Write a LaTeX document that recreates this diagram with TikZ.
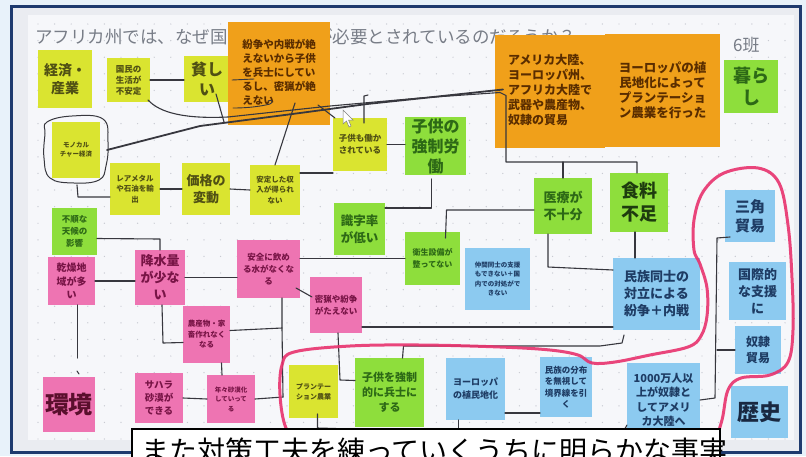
\documentclass[tikz,border=0pt]{standalone}
\usepackage{fontspec}
\setmainfont{Noto Sans CJK JP}
\usetikzlibrary{calc}
\definecolor{bgblue}{RGB}{232,242,250}
\definecolor{navy}{RGB}{30,58,110}
\definecolor{rim}{RGB}{234,236,241}
\definecolor{board}{RGB}{246,247,250}
\definecolor{dotc}{RGB}{200,202,210}
\definecolor{cyel}{RGB}{218,228,48}
\definecolor{cgrn}{RGB}{142,222,60}
\definecolor{cora}{RGB}{240,160,26}
\definecolor{cpnk}{RGB}{238,116,178}
\definecolor{cblu}{RGB}{140,202,240}
\definecolor{tyel}{RGB}{80,80,20}
\definecolor{tgrn}{RGB}{45,105,22}
\definecolor{tora}{RGB}{90,45,0}
\definecolor{tpnk}{RGB}{120,20,70}
\definecolor{tblu}{RGB}{30,60,100}
\definecolor{lineC}{RGB}{55,55,62}
\definecolor{pinkline}{RGB}{232,50,110}
\definecolor{titlec}{RGB}{120,125,135}
\newcommand\fz[2]{\fontsize{#1}{#2}\selectfont\bfseries}
\tikzset{
  note/.style={anchor=north west, inner sep=0pt, outer sep=0pt, align=center},
  yel/.style={note, fill=cyel, text=tyel},
  grn/.style={note, fill=cgrn, text=tgrn},
  ora/.style={note, fill=cora, text=tora},
  pnk/.style={note, fill=cpnk, text=tpnk},
  blu/.style={note, fill=cblu, text=tblu},
  cn/.style={draw=lineC, line width=1.1pt, line cap=round, line join=round},
  pk/.style={draw=pinkline, line width=3pt, line cap=round, line join=round, opacity=0.9}
}
\begin{document}
\begin{tikzpicture}[x=1pt,y=-1pt]
\clip (0,0) rectangle (806,456);
\fill[bgblue] (0,0) rectangle (806,456);
\fill[rim] (11,6) rectangle (800,452);
\fill[board] (28,15) rectangle (794,440);
\foreach \i in {0,...,45} \foreach \j in {0,...,25} \fill[dotc] (38+\i*16.6, 24+\j*16.6) circle (0.7);
\draw[navy, line width=3pt] (11,6) rectangle (800,452);

% title
\node[anchor=west, inner sep=0, text=titlec, font=\fontsize{17.5}{20}\selectfont] (title) at (35,37) {アフリカ州では、なぜ国際的な支援が必要とされているのだろうか？};
\node[anchor=west, inner sep=0, text=titlec, font=\fontsize{17}{20}\selectfont] (han) at (733,45) {6班};

% notes
\node[yel, minimum width=54, minimum height=58, font={\fz{14}{18}}] (keizai) at (38,50) {経済・\\産業};
\node[yel, minimum width=43, minimum height=44, font={\fz{8.5}{11}}] (kokumin) at (107,58) {国民の\\生活が\\不安定};
\node[yel, minimum width=46, minimum height=46, font={\fz{16}{20}}] (mazu) at (184,56) {貧し\\い};
\node[ora, minimum width=102, minimum height=103, font={\fz{10.5}{14}}] (orangeA) at (228,22) {\begin{tabular}{@{}l@{}}紛争や内戦が絶\\えないから子供\\を兵士にしてい\\るし、密猟が絶\\えない\end{tabular}};
\node[ora, minimum width=110, minimum height=113, font={\fz{12}{15}}] (orangeB) at (495,35) {\begin{tabular}{@{}l@{}}アメリカ大陸、\\ヨーロッパ州、\\アフリカ大陸で\\武器や農産物、\\奴隷の貿易\end{tabular}};
\node[ora, minimum width=115, minimum height=113, font={\fz{12.5}{15}}] (orangeC) at (605,34) {ヨーロッパの植\\民地化によって\\プランテーショ\\ン農業を行った};
\node[grn, minimum width=54, minimum height=53, font={\fz{18}{22}}] (kurashi) at (724,60) {暮ら\\し};
\node[yel, minimum width=48, minimum height=56, font={\fz{6.5}{9}}] (mono) at (52,122) {モノカル\\チャー経済};
\node[yel, minimum width=54, minimum height=53, font={\fz{8.5}{12}}] (kodomoH) at (333,118) {子供も働か\\されている};
\node[grn, minimum width=61, minimum height=58, font={\fz{16}{20}}] (kyosei) at (405,117) {子供の\\強制労\\働};
\node[yel, minimum width=50, minimum height=52, font={\fz{7.5}{10.5}}] (rare) at (110,163) {レアメタル\\や石油を輸\\出};
\node[yel, minimum width=48, minimum height=52, font={\fz{13}{17}}] (kakaku) at (182,163) {価格の\\変動};
\node[yel, minimum width=50, minimum height=50, font={\fz{7.5}{10.5}}] (antei) at (250,165) {安定した収\\入が得られ\\ない};
\node[grn, minimum width=51, minimum height=52, font={\fz{12.5}{17}}] (shikiji) at (334,203) {識字率\\が低い};
\node[grn, minimum width=58, minimum height=56, font={\fz{13}{17}}] (iryo) at (534,178) {医療が\\不十分};
\node[grn, minimum width=58, minimum height=59, font={\fz{18}{23}}, text={rgb,255:red,30;green,60;blue,15}] (shokuryo) at (610,173) {食料\\不足};
\node[grn, minimum width=55, minimum height=53, font={\fz{8}{12}}] (eisei) at (405,232) {衛生設備が\\整ってない};
\node[blu, minimum width=65, minimum height=62, font={\fz{6.5}{9.5}}] (nakama) at (465,248) {仲間同士の支援\\もできない＋国\\内での対処がで\\きない};
\node[blu, minimum width=87, minimum height=72, font={\fz{13}{17}}] (minzokuD) at (613,258) {民族同士の\\対立による\\紛争＋内戦};
\node[blu, minimum width=50, minimum height=52, font={\fz{15}{19}}] (sankaku) at (725,190) {三角\\貿易};
\node[blu, minimum width=57, minimum height=58, font={\fz{13}{17}}] (kokusai) at (729,262) {国際的\\な支援\\に};
\node[blu, minimum width=46, minimum height=48, font={\fz{12}{16}}] (dorei) at (735,326) {奴隷\\貿易};
\node[blu, minimum width=57, minimum height=52, font={\fz{22}{26}}, text={rgb,255:red,25;green,40;blue,65}] (rekishi) at (731,386) {歴史};
\node[blu, minimum width=73, minimum height=74, font={\fz{11}{14.5}}] (senman) at (627,363) {1000万人以\\上が奴隷と\\してアメリ\\カ大陸へ};
\node[blu, minimum width=52, minimum height=60, font={\fz{8.5}{11.5}}] (minzokuB) at (540,357) {民族の分布\\を無視して\\境界線を引\\く};
\node[blu, minimum width=59, minimum height=62, font={\fz{9}{13}}] (europe) at (446,358) {ヨーロッパ\\の植民地化};
\node[grn, minimum width=69, minimum height=69, font={\fz{11}{15}}] (kodomoS) at (355,358) {子供を強制\\的に兵士に\\する};
\node[yel, minimum width=49, minimum height=53, font={\fz{7}{10}}] (plant) at (289,365) {プランテー\\ション農業};
\node[pnk, minimum width=52, minimum height=56, font={\fz{8.5}{12}}] (mitsuryo) at (310,277) {密猟や紛争\\がたえない};
\node[pnk, minimum width=63, minimum height=58, font={\fz{8.5}{12}}] (anzen) at (237,240) {安全に飲め\\る水がなくな\\る};
\node[pnk, minimum width=50, minimum height=55, font={\fz{13}{17}}] (kousui) at (135,250) {降水量\\が少な\\い};
\node[pnk, minimum width=47, minimum height=48, font={\fz{10}{13.5}}] (kansou) at (48,257) {乾燥地\\域が多\\い};
\node[grn, minimum width=45, minimum height=47, font={\fz{8.5}{12}}] (fujun) at (52,208) {不順な\\天候の\\影響};
\node[pnk, minimum width=47, minimum height=57, font={\fz{7.5}{10.5}}] (nousan) at (183,306) {農産物・家\\畜作れなく\\なる};
\node[pnk, minimum width=52, minimum height=55, font={\fz{24}{28}}, text={rgb,255:red,90;green,15;blue,45}] (kankyo) at (43,377) {環境};
\node[pnk, minimum width=48, minimum height=50, font={\fz{9.5}{13}}] (sahara) at (135,373) {サハラ\\砂漠が\\できる};
\node[pnk, minimum width=48, minimum height=48, font={\fz{6.5}{9.5}}] (nennen) at (207,375) {年々砂漠化\\していって\\る};

% hand loop around mono
\draw[cn, line width=1pt] plot[smooth cycle, tension=0.7] coordinates {(47,122) (72,116) (103,119) (108,142) (106,166) (99,180) (74,183) (50,178) (44,158) (45,134)};
\coordinate (monoR) at (107,150);

% connectors
\draw[cn] (kokumin.east) -- (kokumin.east -| mazu.west);
\draw[cn] ($(kokumin.south east)+(-2,-2)$) .. controls (160,113) and (185,119) .. (228,117) -- (330,106) -- (420,98) -- ($(orangeB.west)+(5,1)$) -- ($(orangeB.west)+(11,4)$) -- ($(orangeB.south west)+(11,14)$) coordinate (jB) -- ($(shokuryo.north)+(-2,-11)$) -- ($(shokuryo.north)+(-2,0)$);
\draw[cn, line width=1.8pt] (monoR) -- (200,126) -- (300,113) -- (367,104) -- (433,97) -- ($(orangeB.west)+(8,-2)$);
\draw[cn] ($(mazu.south)+(9,-8)$) -- ($(mazu.south)+(17,20)$);
\draw[cn] ($(orangeA.south)+(16,-22)$) -- (antei.north);
\draw[cn] ($(orangeA.south east)+(-12,-20)$) -- ($(kodomoH.north west)+(2,0)$);
\draw[cn] ($(kodomoH.north)+(4,5)$) -- ($(kodomoH.north)+(4,-22)$) -- ++(4,-1);
\draw[cn] (kodomoH.east) -- (kodomoH.east -| kyosei.west);
\draw[cn] ($(antei.north east)+(0,8)$) -- ($(kodomoH.south west)+(0,2)$);
\draw[cn] (rare.east) -- (kakaku.west);
\draw[cn] (kakaku.east) -- (antei.west);
\draw[cn] ($(rare.west)+(0,8)$) -- ++(-32,0) -- ++(-1,-12);
\draw[cn] ($(kyosei.south)+(-4,4)$) -- ++(0,29) -- ($(shikiji.north east)+(0,5)$);
\draw[cn] ($(eisei.north)+(13,6)$) -- ++(1,-28) -- ($(iryo.west)+(0,4)$);
\draw[cn] ($(iryo.north)+(0,-16)$) -- (iryo.north);
\draw[cn] ($(shokuryo.south)+(-4,0)$) -- ($(shokuryo.south)+(-4,26)$);
\draw[cn] ($(iryo.south)+(-15,0)$) -- ++(0,33) -- ($(minzokuD.north west)+(0,12)$);
\draw[cn] (eisei.west) -- (eisei.west -| anzen.east);
\draw[cn] (kansou.east) -- (kansou.east -| kousui.west);
\draw[cn] ($(fujun.east)+(0,7)$) -- ($(kousui.north)+(0,-11)$) -- (kousui.north);
\draw[cn] (kousui.east) -- (kousui.east -| anzen.west);
\draw[cn] ($(kansou.south)+(6,0)$) -- ++(0,53);
\draw[cn] ($(kankyo.north)+(8,-6)$) -- ++(2,3);
\draw[cn] ($(kousui.south)+(2,0)$) -- ++(1,38) -- ($(nousan.west)+(0,8)$);
\draw[cn] ($(anzen.south east)+(-18,0)$) -- ++(0,30) coordinate (vA) -- ++(1,69) coordinate (vB);
\draw[cn] ($(nousan.east)+(0,-4)$) -- (vA);
\draw[cn] (nennen.east) -- (vB);
\draw[cn] ($(anzen.south east)+(-4,-10)$) -- ($(mitsuryo.north west)+(2,20)$);
\draw[cn] ($(mitsuryo.south)+(2,0)$) -- ++(2,47) -- ($(kodomoS.west)+(0,-12)$);
\draw[cn] ($(mitsuryo.south east)+(0,-6)$) -- ($(minzokuD.south west)+(0,-3)$);
\draw[cn] ($(kodomoS.north)+(13,0)$) -- ++(1,-12) -- ($(senman.north west)+(-27,-17)$) -- ($(senman.north west)+(-5,-20)$) -- ++(2,-8);
\draw[cn] (sahara.east) -- (nennen.west);
\draw[cn] ($(nousan.south)+(15,0)$) -- ($(nennen.north)+(-9,0)$);
\draw[cn] ($(plant.south)+(4,-4)$) -- ++(0,14) -- ($(europe.south)+(-20,12)$) -- ($(senman.south west)+(-5,-3)$) -- ($(senman.south west)+(0,-12)$);
\draw[cn] ($(europe.south)+(-17,0)$) -- ++(0,20);
\draw[cn] ($(europe.south east)+(0,-7)$) -- ($(minzokuB.south west)+(0,-4)$);
\draw[cn] (senman.east) -- ++(15,-2) coordinate (vr) -- ($(sankaku.south west)+(-8,-4)$) -- ($(sankaku.south west)+(5,-5)$);
\draw[cn] (dorei.west) -- ++(-18,0);

% hand underlines on orange note
\draw[cn, line width=0.9pt] (232,80) -- (254,79);
\draw[cn, line width=0.9pt] (233,108) .. controls (250,108) and (262,106) .. (270,104) .. controls (274,102) and (272,99) .. (268,101);

% pink loops
\draw[pk] plot[smooth, tension=0.6] coordinates {(302,446) (286,428) (280,395) (282,365) (294,352) (350,346) (420,345) (500,347) (550,350) (578,355) (592,363) (615,362) (650,355) (688,347) (701,336) (707,316) (707,288) (700,264) (694,250) (694,220) (703,192) (724,173) (758,168) (779,183) (788,225) (792,278) (793,330) (788,362) (770,375) (741,378) (728,390) (722,420) (713,448)};

% mouse cursor
\draw[fill=white, draw=gray, line width=0.5pt] (343,110) -- (343,124) -- (346.5,121) -- (349,127) -- (351,126) -- (348.5,120) -- (353,120) -- cycle;

% caption (cut off by the bottom edge, as in the screenshot)
\node[draw=black, line width=1.6pt, fill=white, anchor=north west, minimum width=588, minimum height=40, inner sep=0] (capbox) at (131,428) {};
\node[anchor=base west, inner sep=0, font=\fontsize{28}{32}\selectfont] (captext) at (141,461) {また対策工夫を練っていくうちに明らかな事実};
\end{tikzpicture}
\end{document}
